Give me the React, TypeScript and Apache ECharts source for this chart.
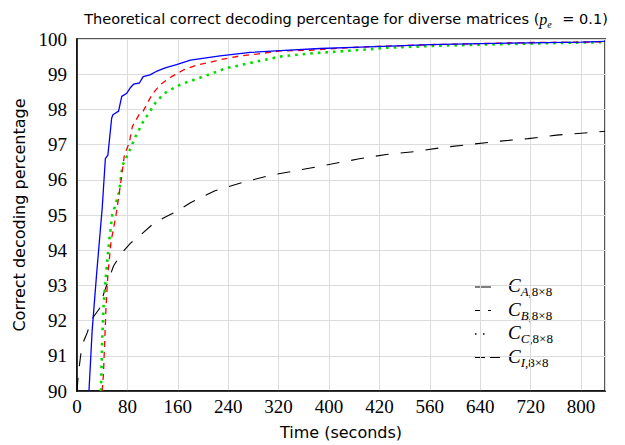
import React, { useEffect, useRef } from "react";
import * as echarts from "echarts";

const xTickLabels = ["0", "80", "160", "240", "320", "400", "420", "560", "640", "720", "800"];

const tA = [19, 24, 31, 40, 45, 49, 55, 57, 66, 71, 79, 84, 90, 99, 105, 116, 127, 140, 158, 180, 227, 275, 323, 386, 450, 497, 560, 640, 720, 800, 838];
const vA = [90, 91.7, 93.3, 95.2, 96.6, 96.7, 97.75, 97.85, 97.95, 98.37, 98.46, 98.6, 98.72, 98.75, 98.93, 98.98, 99.09, 99.18, 99.27, 99.4, 99.52, 99.62, 99.67, 99.73, 99.77, 99.8, 99.84, 99.87, 99.89, 99.91, 99.93];

const tB = [40, 42, 46, 49, 54, 62, 71, 75, 83, 88, 100, 105, 119, 132, 150, 169, 190, 211, 232, 259, 285, 322, 370, 428, 476, 560, 640, 720, 800, 838];
const vB = [90, 90.48, 92.36, 93.3, 94.24, 95.0, 96.12, 96.68, 97.06, 97.52, 97.9, 97.95, 98.42, 98.7, 98.93, 99.12, 99.26, 99.34, 99.43, 99.52, 99.57, 99.66, 99.68, 99.75, 99.79, 99.84, 99.87, 99.9, 99.91, 99.92];

const tC = [38, 40, 42, 46, 51, 56, 67, 72, 82, 92, 104, 116, 125, 138, 158, 166, 200, 237, 280, 322, 370, 412, 465, 491, 560, 640, 720, 800, 838];
const vC = [90, 91.42, 92.36, 93.3, 94.24, 95.0, 95.65, 96.4, 96.77, 97.2, 97.62, 97.95, 98.2, 98.45, 98.65, 98.72, 98.93, 99.17, 99.34, 99.5, 99.59, 99.64, 99.71, 99.75, 99.8, 99.84, 99.87, 99.9, 99.91];

const tI = [0, 2, 5, 8, 16, 24, 36, 43, 50, 58, 70, 85, 102, 119, 138, 158, 180, 219, 264, 310, 354, 402, 446, 491, 535, 581, 627, 672, 716, 761, 811, 838];
const vI = [90.0, 90.45, 90.9, 91.3, 91.65, 92.05, 92.35, 92.8, 93.15, 93.55, 93.9, 94.2, 94.45, 94.72, 94.92, 95.1, 95.35, 95.69, 95.93, 96.14, 96.28, 96.44, 96.59, 96.72, 96.8, 96.92, 97.01, 97.1, 97.17, 97.27, 97.34, 97.38];

const legendSubs = ["A", "B", "C", "I"];

const zip = (t: number[], v: number[]) => t.map((x, i) => [x, v[i]]);

const SANS = "'DejaVu Sans', Lato, sans-serif";
const SERIF = "'Liberation Serif', 'DejaVu Serif', serif";

export default function App() {
  const ref = useRef<HTMLDivElement>(null);
  useEffect(() => {
    document.body.style.margin = "0";
    if (!ref.current) return;
    const chart = echarts.init(ref.current, null, { renderer: "svg" });

    const legendY = [287, 310.5, 334, 357.5];
    const legendDash: any[] = [null, [5, 8], [1.5, 6.5], [10, 5]];
    const legendGraphics: any[] = [];
    legendSubs.forEach((s, i) => {
      const y = legendY[i];
      legendGraphics.push({
        type: "line",
        shape: { x1: 475, y1: y, x2: i === 3 ? 501 : 491, y2: y },
        style: { stroke: "#000", lineWidth: i === 2 ? 1.6 : 1, lineDash: legendDash[i] },
        silent: true,
      });
      legendGraphics.push({
        type: "text",
        x: 508,
        y: y,
        style: {
          text: "{c|C}{s|" + s + "}{n|,8×8}",
          verticalAlign: "middle",
          rich: {
            c: { fontFamily: SERIF, fontStyle: "italic", fontSize: 19, lineHeight: 22, verticalAlign: "top", fill: "#000" },
            s: { fontFamily: SERIF, fontStyle: "italic", fontSize: 13, lineHeight: 14, verticalAlign: "bottom", fill: "#000" },
            n: { fontFamily: SERIF, fontSize: 13, lineHeight: 14, verticalAlign: "bottom", fill: "#000" },
          },
        },
      });
    });

    const option: any = {
      animation: false,
      backgroundColor: "#fff",
      title: {
        text: "{a|Theoretical correct decoding percentage for diverse matrices (}{p|p}{e|e}{a| = 0.1)}",
        left: 341,
        textAlign: "center",
        top: 4,
        textStyle: {
          fontWeight: "normal",
          rich: {
            a: { fontFamily: SANS, fontWeight: "normal", fontSize: 14.5, color: "#000", lineHeight: 20, verticalAlign: "middle" },
            p: { fontFamily: SERIF, fontWeight: "normal", fontStyle: "italic", fontSize: 16, color: "#000", lineHeight: 20, verticalAlign: "middle" },
            e: { fontFamily: SERIF, fontWeight: "normal", fontStyle: "italic", fontSize: 10, color: "#000", lineHeight: 12, verticalAlign: "bottom", padding: [0, 6, 0, 0] },
          },
        },
      },
      grid: {
        left: 77,
        right: 20,
        top: 39,
        bottom: 51,
        show: true,
        borderColor: "#555",
        borderWidth: 2,
        containLabel: false,
      },
      xAxis: {
        type: "value",
        min: 0,
        max: 838,
        interval: 80,
        name: "Time (seconds)",
        nameLocation: "middle",
        nameGap: 33,
        nameTextStyle: { fontFamily: SANS, fontSize: 16, color: "#000" },
        axisLine: { show: true, onZero: false, lineStyle: { color: "#000", width: 1.5 } },
        axisTick: { show: false },
        axisLabel: {
          margin: 6,
          fontFamily: SERIF,
          fontSize: 19,
          color: "#000",
          showMaxLabel: false,
          formatter: (v: number) => {
            const idx = Math.round(v / 80);
            return Math.abs(v - idx * 80) < 0.01 && idx < xTickLabels.length ? xTickLabels[idx] : "";
          },
        },
        splitLine: { show: true, lineStyle: { color: "#dcdcdc", width: 1 } },
      },
      yAxis: {
        type: "value",
        min: 90,
        max: 100,
        interval: 1,
        name: "Correct decoding percentage",
        nameLocation: "middle",
        nameGap: 50,
        nameTextStyle: { fontFamily: SANS, fontSize: 16, color: "#000" },
        axisLine: { show: true, lineStyle: { color: "#000", width: 1.5 } },
        axisTick: { show: false },
        axisLabel: { margin: 10, fontFamily: SERIF, fontSize: 19, color: "#000" },
        splitLine: { show: true, lineStyle: { color: "#dcdcdc", width: 1 } },
      },
      series: [
        {
          name: "C_A",
          type: "line",
          data: zip(tA, vA),
          showSymbol: false,
          lineStyle: { color: "#0000ff", width: 1.3 },
          z: 5,
        },
        {
          name: "C_B",
          type: "line",
          data: zip(tB, vB),
          showSymbol: false,
          lineStyle: { color: "#ff0000", width: 1.3, type: [6, 5] },
          z: 4,
        },
        {
          name: "C_C",
          type: "line",
          data: zip(tC, vC),
          showSymbol: false,
          lineStyle: { color: "#00dd00", width: 2.6, type: [2.6, 5] },
          z: 3,
        },
        {
          name: "C_I",
          type: "line",
          data: zip(tI, vI),
          showSymbol: false,
          lineStyle: { color: "#000", width: 1.1, type: [13, 12] },
          z: 2,
        },
      ],
      graphic: legendGraphics,
    };
    chart.setOption(option);
    return () => chart.dispose();
  }, []);
  return <div ref={ref} style={{ width: 625, height: 445 }} />;
}
